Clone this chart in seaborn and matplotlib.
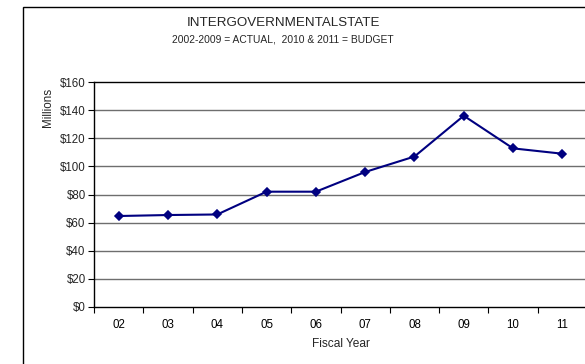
import matplotlib
matplotlib.use("Agg")
import matplotlib.pyplot as plt
import seaborn as sns
import numpy as np
import pandas as pd
from matplotlib.patches import Rectangle
from matplotlib.ticker import FixedLocator

# Fiscal years and intergovernmental state revenue (millions of dollars)
fiscal_years = ["02", "03", "04", "05", "06", "07", "08", "09", "10", "11"]
revenue = [64.7, 65.4, 65.8, 82.0, 82.0, 96.0, 107.0, 136.0, 112.8, 109.0]
y_ticks = [0, 20, 40, 60, 80, 100, 120, 140, 160]
y_tick_labels = [f"${v}" for v in y_ticks]

sns.set_theme(style="white")
plt.rcParams["font.family"] = ["Liberation Sans", "DejaVu Sans"]

fig = plt.figure(figsize=(5.85, 3.64), dpi=100)
ax = fig.add_axes([94 / 585, 1 - 307 / 364, 493 / 585, 225 / 364])

df = pd.DataFrame({"year": fiscal_years, "value": revenue})
sns.pointplot(data=df, x="year", y="value", ax=ax, color="#000080",
              markers="D", markersize=4.5, linewidth=1.5, errorbar=None)

ax.set_ylim(0, 160)
ax.set_xlim(-0.5, len(fiscal_years) - 0.5)
ax.set_yticks(y_ticks)
ax.set_yticklabels(y_tick_labels)
for v in y_ticks[1:-1]:
    ax.axhline(v, color="#6e6e6e", linewidth=1.0, zorder=0)

# category labels centred, tick marks at the category boundaries
ax.tick_params(axis="x", which="major", length=0, pad=9, labelsize=8.3, colors="#000000")
ax.xaxis.set_minor_locator(FixedLocator(np.arange(-0.5, len(fiscal_years), 1.0)))
ax.tick_params(axis="x", which="minor", bottom=True, length=4, width=0.8, color="#000000", direction="out")
ax.tick_params(axis="y", which="major", left=True, length=4, width=0.8, color="#000000",
               labelsize=8.3, pad=2, direction="out")

for side in ["left", "bottom", "top", "right"]:
    ax.spines[side].set_color("#000000")
    ax.spines[side].set_linewidth(1.0)

ax.set_xlabel("")
ax.set_ylabel("")
fig.text(341 / 585, 1 - 344 / 364, "Fiscal Year", fontsize=8.6,
         ha="center", va="center")
fig.text(48 / 585, 1 - 107 / 364, "Millions", rotation=90, fontsize=8.4,
         ha="center", va="center")

fig.text(283 / 585, 1 - 23.5 / 364, "INTERGOVERNMENTALSTATE", fontsize=9.6,
         ha="center", va="center")
fig.text(283 / 585, 1 - 39.5 / 364, "2002-2009 = ACTUAL,  2010 & 2011 = BUDGET",
         fontsize=7.4, ha="center", va="center")

# outer chart frame
fig.patches.append(Rectangle((22.5 / 585, -0.1), 1.2, 1 - 6.5 / 364 + 0.1,
                             transform=fig.transFigure, fill=False,
                             edgecolor="#000000", linewidth=1.0))

fig.savefig("out.png", dpi=100, facecolor="white")
